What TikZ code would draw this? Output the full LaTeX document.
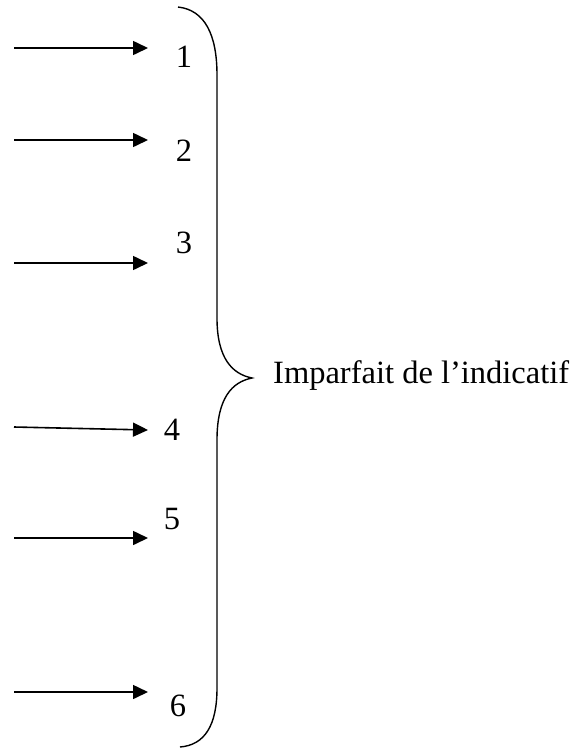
\documentclass[tikz,border=0pt]{standalone}
\usepackage{fontspec}
\setmainfont{Liberation Serif}
\usetikzlibrary{arrows.meta}
\begin{document}
\begin{tikzpicture}[x=1pt,y=-1pt,
  lbl/.style={inner sep=0pt,font=\fontsize{32.5}{38}\selectfont},
  arr/.style={line width=1.6pt,-{Triangle[length=15pt,width=14pt]}},
  brc/.style={line width=1.4pt}]
\useasboundingbox (0,0) rectangle (577,748);
\node[lbl] (n1) at (184,57) {1};
\node[lbl] (n2) at (184,151) {2};
\node[lbl] (n3) at (184,243) {3};
\node[lbl] (n4) at (172,430) {4};
\node[lbl] (n5) at (172,519) {5};
\node[lbl] (n6) at (178,706) {6};
\node[lbl,anchor=base west] (t) at (273,383) {Imparfait de l’indicatif};
\coordinate (s1) at (14,48);  \coordinate (e1) at (148,48);
\coordinate (s2) at (14,140); \coordinate (e2) at (148,140);
\coordinate (s3) at (14,263); \coordinate (e3) at (148,263);
\coordinate (s4) at (14,427); \coordinate (e4) at (148,430);
\coordinate (s5) at (14,538); \coordinate (e5) at (148,538);
\coordinate (s6) at (14,692); \coordinate (e6) at (148,692);
\foreach \i in {1,...,6} {\draw[arr] (s\i) -- (e\i);}
\coordinate (tip) at (252,378);
\draw[brc] (178,7) .. controls (205,10) and (217,35) .. (217,75)
  -- (217,318) .. controls (217,358) and (232,374) .. (tip)
  .. controls (232,382) and (217,398) .. (217,440)
  -- (217,688) .. controls (217,725) and (205,745) .. (180,747);
\end{tikzpicture}
\end{document}
